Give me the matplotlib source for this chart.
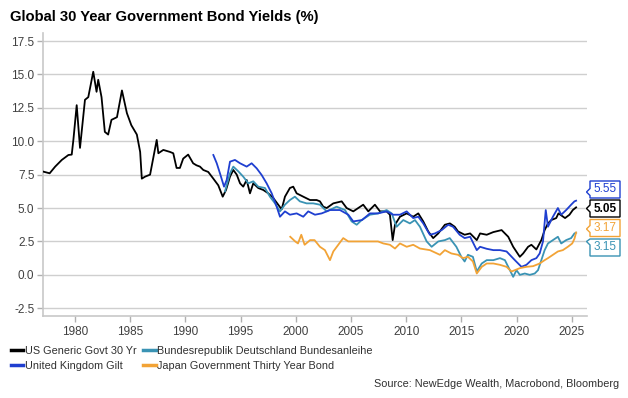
import matplotlib
matplotlib.use("Agg")
import matplotlib.pyplot as plt
from matplotlib.patches import Polygon
from matplotlib.lines import Line2D

plt.rcParams['font.family'] = ['Liberation Sans', 'DejaVu Sans']

# ---------------- data ----------------
us_years = [1977.1, 1977.7, 1978.2, 1978.8, 1979.4, 1979.7, 1979.85, 1980.15, 1980.45, 1980.9,
            1981.2, 1981.65, 1981.95, 1982.1, 1982.4, 1982.7, 1983.0, 1983.3, 1983.8, 1984.25,
            1984.7, 1985.1, 1985.6, 1985.9, 1986.05, 1986.35, 1986.8, 1987.1, 1987.4, 1987.55,
            1988.0, 1988.6, 1988.9, 1989.2, 1989.5, 1989.8, 1990.25, 1990.7, 1991.0, 1991.32,
            1991.62, 1992.07, 1992.53, 1992.98, 1993.38, 1993.68, 1994.04, 1994.34, 1994.65, 1994.95,
            1995.24, 1995.55, 1995.85, 1996.15, 1996.6, 1997.06, 1997.51, 1997.96, 1998.41, 1998.72,
            1999.02, 1999.47, 1999.77, 2000.08, 2000.68, 2001.29, 2001.89, 2002.19, 2002.49, 2002.8,
            2003.4, 2004.16, 2004.61, 2005.21, 2006.11, 2006.57, 2007.17, 2007.63, 2008.23, 2008.53,
            2008.78, 2008.99, 2009.44, 2010.05, 2010.64, 2011.1, 2011.55, 2012.0, 2012.45, 2012.91,
            2013.51, 2013.97, 2014.4, 2014.7, 2015.3, 2015.8, 2016.4, 2016.7, 2017.3, 2017.9,
            2018.65, 2019.25, 2019.7, 2020.3, 2020.6, 2021.05, 2021.35, 2021.8, 2022.25, 2022.55,
            2022.85, 2023.15, 2023.6, 2023.8, 2024.4, 2024.8, 2025.1, 2025.4]
us_yield = [7.73, 7.6, 8.1, 8.6, 8.97, 9.0, 10.1, 12.7, 9.5, 13.1,
            13.3, 15.2, 13.7, 14.6, 13.3, 10.7, 10.5, 11.6, 11.8, 13.8,
            12.1, 11.2, 10.5, 9.2, 7.2, 7.35, 7.5, 8.8, 10.1, 9.1,
            9.35, 9.2, 9.1, 8.0, 8.0, 8.7, 9.0, 8.35, 8.2, 8.1,
            7.85, 7.7, 7.2, 6.7, 5.85, 6.35, 7.35, 7.85, 7.5, 6.85,
            6.6, 7.1, 6.1, 6.85, 6.5, 6.35, 6.1, 5.75, 5.25, 4.9,
            5.85, 6.5, 6.6, 6.1, 5.85, 5.6, 5.6, 5.5, 5.1, 5.0,
            5.35, 5.5, 5.0, 4.75, 5.25, 4.75, 5.25, 4.75, 4.75, 4.5,
            2.6, 3.75, 4.35, 4.6, 4.35, 4.6, 4.0, 3.25, 2.75, 3.1,
            3.75, 3.85, 3.6, 3.25, 3.0, 3.1, 2.6, 3.1, 3.0, 3.2,
            3.35, 2.85, 2.1, 1.35, 1.6, 2.1, 2.25, 1.9, 2.6, 3.35,
            3.85, 4.1, 4.25, 4.6, 4.25, 4.5, 4.85, 5.05]

de_years = [1993.59, 1994.04, 1994.34, 1994.79, 1995.24, 1995.7, 1996.15, 1996.6, 1997.21, 1997.66,
            1998.12, 1998.57, 1999.02, 1999.47, 1999.92, 2000.37, 2000.98, 2001.58, 2002.19, 2002.8,
            2003.7, 2004.46, 2005.06, 2005.52, 2005.97, 2006.72, 2007.47, 2008.23, 2008.69, 2009.14,
            2009.74, 2010.34, 2010.8, 2011.25, 2011.86, 2012.31, 2012.91, 2013.51, 2013.95, 2014.55,
            2015.0, 2015.3, 2015.6, 2016.05, 2016.4, 2016.85, 2017.3, 2017.9, 2018.5, 2018.95,
            2019.4, 2019.7, 2020.0, 2020.3, 2020.75, 2021.2, 2021.65, 2021.95, 2022.25, 2022.55,
            2022.85, 2023.3, 2023.75, 2024.05, 2024.5, 2024.95, 2025.25, 2025.4]
de_yield = [6.25, 7.6, 8.1, 7.75, 7.35, 6.85, 7.0, 6.6, 6.5, 5.85,
            5.35, 4.75, 5.25, 5.6, 5.85, 5.5, 5.35, 5.35, 5.25, 4.75,
            5.1, 4.85, 4.0, 3.75, 4.1, 4.5, 4.6, 4.85, 4.6, 3.6,
            4.1, 3.85, 4.1, 3.6, 2.5, 2.1, 2.5, 2.6, 2.75, 2.1,
            1.35, 1.0, 1.5, 1.35, 0.25, 0.85, 1.1, 1.1, 1.25, 1.1,
            0.35, -0.15, 0.35, 0.0, 0.1, 0.0, 0.1, 0.35, 1.1, 1.85,
            2.35, 2.6, 2.85, 2.35, 2.6, 2.75, 3.1, 3.15]

uk_years = [1992.53, 1992.84, 1993.13, 1993.5, 1993.74, 1994.04, 1994.49, 1994.95, 1995.55, 1996.0,
            1996.46, 1996.91, 1997.36, 1997.82, 1998.27, 1998.57, 1999.02, 1999.47, 2000.08, 2000.68,
            2001.13, 2001.74, 2002.35, 2003.1, 2004.0, 2004.76, 2005.21, 2006.0, 2006.72, 2007.45,
            2008.23, 2008.83, 2009.44, 2010.05, 2010.64, 2011.1, 2011.55, 2012.15, 2012.61, 2013.22,
            2013.81, 2014.25, 2014.85, 2015.3, 2015.8, 2016.4, 2016.7, 2017.3, 2017.9, 2018.5,
            2019.1, 2019.85, 2020.15, 2020.45, 2020.9, 2021.35, 2021.8, 2022.1, 2022.4, 2022.65,
            2022.85, 2023.3, 2023.75, 2024.05, 2024.5, 2024.95, 2025.25, 2025.4]
uk_yield = [8.97, 8.35, 7.6, 6.6, 7.1, 8.47, 8.6, 8.35, 8.1, 8.35,
            7.97, 7.47, 6.85, 6.1, 5.1, 4.35, 4.75, 4.5, 4.6, 4.35,
            4.75, 4.5, 4.6, 4.85, 4.85, 4.5, 4.0, 4.1, 4.6, 4.6,
            4.75, 4.5, 4.5, 4.75, 4.25, 4.35, 3.85, 3.0, 3.1, 3.35,
            3.75, 3.6, 3.0, 2.75, 2.85, 1.85, 2.1, 1.95, 1.85, 1.85,
            1.75, 1.1, 0.85, 0.6, 0.75, 1.1, 1.25, 1.6, 2.5, 4.85,
            3.6, 4.35, 5.0, 4.5, 4.85, 5.25, 5.5, 5.55]

jp_years = [1999.5, 1999.95, 2000.2, 2000.5, 2000.8, 2001.3, 2001.7, 2002.19, 2002.64, 2003.1,
            2003.4, 2003.85, 2004.3, 2004.76, 2005.5, 2006.11, 2006.7, 2007.45, 2007.93, 2008.53,
            2008.99, 2009.44, 2010.05, 2010.64, 2011.25, 2012.15, 2013.06, 2013.51, 2014.1, 2014.7,
            2015.15, 2015.6, 2016.05, 2016.4, 2016.85, 2017.3, 2017.9, 2018.5, 2019.1, 2019.55,
            2019.85, 2020.3, 2020.9, 2021.5, 2022.1, 2022.55, 2022.85, 2023.3, 2023.75, 2024.2,
            2024.65, 2025.05, 2025.25, 2025.4]
jp_yield = [2.85, 2.5, 2.35, 3.0, 2.25, 2.6, 2.6, 2.1, 1.85, 1.1,
            1.75, 2.25, 2.75, 2.5, 2.5, 2.5, 2.5, 2.5, 2.35, 2.25,
            1.97, 2.35, 2.1, 2.25, 1.97, 1.85, 1.5, 1.85, 1.6, 1.5,
            1.25, 1.35, 1.0, 0.1, 0.6, 0.85, 0.85, 0.75, 0.6, 0.25,
            0.35, 0.5, 0.6, 0.65, 0.85, 1.1, 1.25, 1.5, 1.75, 1.85,
            2.1, 2.35, 2.7, 3.17]

series_names = ["US Generic Govt 30 Yr", "Bundesrepublik Deutschland Bundesanleihe",
                "United Kingdom Gilt", "Japan Government Thirty Year Bond"]
series_colors = ["#000000", "#3a93b4", "#1f3fd0", "#f2a336"]

y_ticks = [-2.5, 0.0, 2.5, 5.0, 7.5, 10.0, 12.5, 15.0, 17.5]
x_ticks = [1980, 1985, 1990, 1995, 2000, 2005, 2010, 2015, 2020, 2025]

last_labels = ["5.55", "5.05", "3.17", "3.15"]
last_colors = ["#1f3fd0", "#000000", "#f2a336", "#3a93b4"]

title = "Global 30 Year Government Bond Yields (%)"
source = "Source: NewEdge Wealth, Macrobond, Bloomberg"

# ---------------- figure ----------------
W, H = 628, 398
fig = plt.figure(figsize=(W / 100, H / 100), dpi=100)
ax = fig.add_axes([42.7 / W, 1 - 316 / H, (586.7 - 42.7) / W, (316 - 33) / H])

lw = 1.3
ax.plot(us_years, us_yield, color=series_colors[0], lw=lw, zorder=3)
ax.plot(de_years, de_yield, color=series_colors[1], lw=lw, zorder=4)
ax.plot(uk_years, uk_yield, color=series_colors[2], lw=lw, zorder=5)
ax.plot(jp_years, jp_yield, color=series_colors[3], lw=lw, zorder=6)

ax.set_xlim(1977.07, 2026.36)
ax.set_ylim(-3.08, 18.1)
ax.set_yticks(y_ticks)
ax.set_yticklabels([f"{v:.1f}" for v in y_ticks])
ax.set_xticks(x_ticks)
ax.set_xticklabels([str(v) for v in x_ticks])
ax.grid(axis='y', color='#cfcfcf', lw=1.0)
ax.set_axisbelow(True)
for s in ['top', 'right']:
    ax.spines[s].set_visible(False)
for s in ['left', 'bottom']:
    ax.spines[s].set_color('#c8c8c8')
    ax.spines[s].set_linewidth(1.2)
ax.tick_params(axis='both', colors='#b0b0b0', labelcolor='#404040', labelsize=8.5,
               length=4, width=1)
ax.tick_params(axis='x', pad=3)
ax.tick_params(axis='y', pad=2)

# title
fig.text(10 / W, 1 - 17 / H, title, fontsize=10.6, fontweight='bold', ha='left', va='center',
         color='#000000')

# legend
handles = [Line2D([], [], color=series_colors[i], lw=2.5) for i in range(4)]
order = [0, 2, 1, 3]
leg = fig.legend([handles[i] for i in order], [series_names[i] for i in order],
                 loc='upper left', bbox_to_anchor=(11 / W, 1 - 346 / H), ncol=2,
                 frameon=False, fontsize=7.8, handlelength=1.15, handletextpad=0.12,
                 columnspacing=0.65, labelspacing=0.45, borderaxespad=0, borderpad=0)
for t in leg.get_texts():
    t.set_color('#303030')

# source
fig.text(619 / W, 1 - 384 / H, source, fontsize=7.8, ha='right', va='center', color='#303030')

# value labels at the right edge
boxes = [(181, 198, 192), (200, 217, 208.5), (219.5, 236.5, 229), (239, 256, 241.5)]
x0, x1, xt = 590, 620, 586.5
for (top, bot, ya), lab, col in zip(boxes, last_labels, last_colors):
    pts = [(x0, top), (x1, top), (x1, bot), (x0, bot), (x0, min(ya + 3.5, bot)),
           (xt, ya), (x0, max(ya - 3.5, top))]
    pts = [(px / W, 1 - py / H) for px, py in pts]
    poly = Polygon(pts, closed=True, transform=fig.transFigure, facecolor='white',
                   edgecolor=col, lw=1.0, zorder=10)
    fig.patches.append(poly)
    fig.text((x0 + x1) / 2 / W, 1 - (top + bot) / 2 / H, lab, ha='center', va='center',
             fontsize=8.5, color=col, fontweight='bold' if lab == "5.05" else 'normal',
             zorder=11)

fig.savefig("out.png", dpi=100)
